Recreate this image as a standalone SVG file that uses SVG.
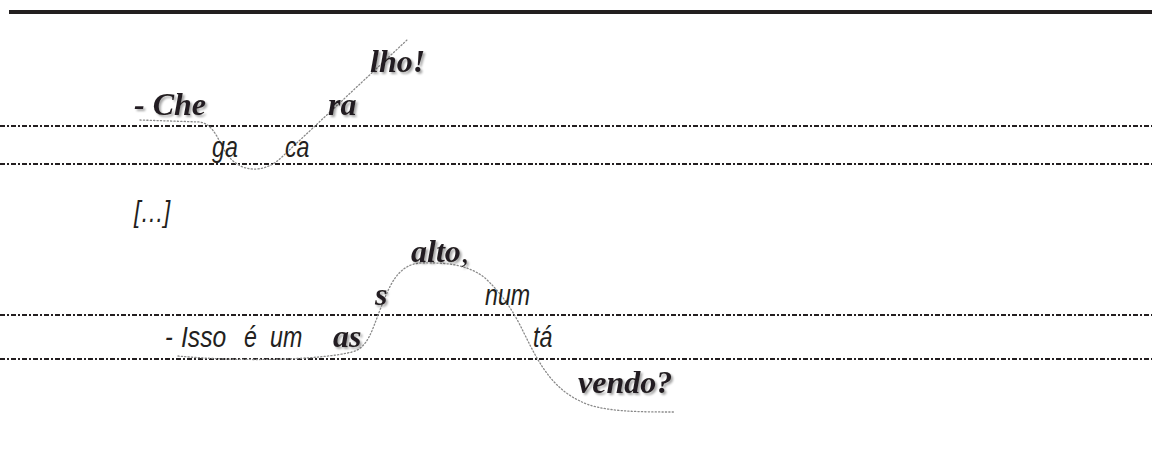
<svg xmlns="http://www.w3.org/2000/svg" width="1152" height="455" viewBox="0 0 1152 455">
  <style>
    .rule { stroke: #231f20; stroke-width: 1.8; stroke-dasharray: 5 2 2 2; fill: none; }
    .pitch { stroke: #8a8a8a; stroke-width: 1.3; stroke-dasharray: 1.2 2.2; fill: none; stroke-linecap: round; }
    .stress { font-family: "Liberation Serif", serif; font-weight: bold; font-style: italic; font-size: 32px; fill: #231f20; filter: url(#shade); }
    .plain { font-family: "Liberation Sans", Arial, sans-serif; font-style: italic; font-size: 29px; fill: #231f20; }
  </style>
  <defs>
    <filter id="shade" x="-20%" y="-30%" width="150%" height="170%">
      <feDropShadow dx="2" dy="2" stdDeviation="0.8" flood-color="#000" flood-opacity="0.35"/>
    </filter>
  </defs>

  <rect x="0" y="0" width="1152" height="455" fill="#ffffff"/>

  <!-- heavy top rule -->
  <rect x="9" y="10" width="1143" height="4" fill="#231f20"/>

  <!-- staff lines -->
  <g id="staff">
    <line class="rule" x1="0" y1="126" x2="1152" y2="126"/>
    <line class="rule" x1="0" y1="164" x2="1152" y2="164"/>
    <line class="rule" x1="0" y1="315" x2="1152" y2="315"/>
    <line class="rule" x1="0" y1="359" x2="1152" y2="359"/>
  </g>

  <!-- intonation contours -->
  <g id="connectors">
    <path class="pitch" d="M140,120 L200,122 C211,124 216,134 222,146 C230,162 242,170 257,169 C268,168 276,163 284,155 L407,40"/>
    <path class="pitch" d="M178,356 C240,362 320,360 352,352 C368,348 372,330 380,310 C390,284 398,265 420,263 C450,262 470,266 485,278 C500,292 510,306 520,325 C535,355 548,386 580,401 C600,412 640,412 675,412"/>
  </g>

  <!-- first utterance -->
  <g id="che"><text class="stress" x="134" y="115">- Che</text></g>
  <g id="ga"><text class="plain" transform="translate(212,157) scale(0.8,1)">ga</text></g>
  <g id="ca"><text class="plain" transform="translate(285,157) scale(0.8,1)">ca</text></g>
  <g id="ra"><text class="stress" x="328" y="115">ra</text></g>
  <g id="lho"><text class="stress" x="370" y="72">lho!</text></g>

  <!-- ellipsis -->
  <g id="cut"><text class="plain" transform="translate(134,222) scale(0.8,1)">[…]</text></g>

  <!-- second utterance -->
  <g id="isso">
    <text class="plain" transform="translate(165,347) scale(0.8,1)">-</text>
    <text class="plain" transform="translate(181,347) scale(0.85,1)">Isso</text>
    <text class="plain" transform="translate(244,347) scale(0.8,1)">é</text>
    <text class="plain" transform="translate(270,347) scale(0.8,1)">um</text>
  </g>
  <g id="as"><text class="stress" x="333" y="347">as</text></g>
  <g id="s"><text class="stress" x="375" y="305">s</text></g>
  <g id="alto"><text class="stress" x="411" y="262">alto<tspan font-weight="normal">,</tspan></text></g>
  <g id="num"><text class="plain" transform="translate(485,305) scale(0.8,1)">num</text></g>
  <g id="ta"><text class="plain" transform="translate(533,347) scale(0.8,1)">tá</text></g>
  <g id="vendo"><text class="stress" x="578" y="393">vendo?</text></g>
</svg>
